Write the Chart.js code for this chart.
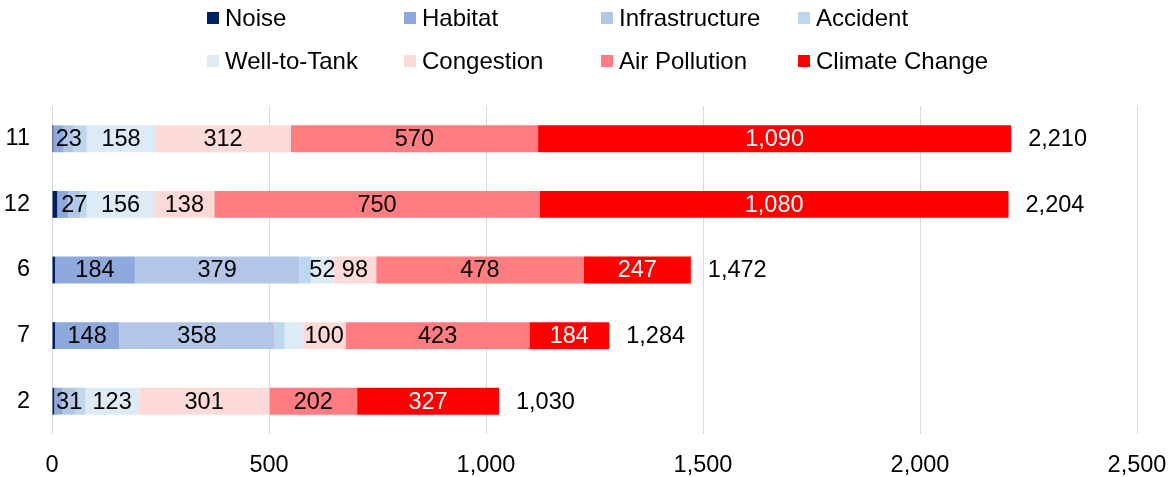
<!DOCTYPE html>
<html>
<head>
<meta charset="utf-8">
<script src="https://cdn.jsdelivr.net/npm/chart.js@4.4.1/dist/chart.umd.min.js"></script>
<style>
    body { margin: 0; background: #fff; }
    #wrap { position: relative; width: 1172px; height: 477px; }
    #grafica { position: absolute; left: 0; top: 0; }
    #leyenda {
        position: absolute;
        left: 207px;
        top: -4px;
        display: grid;
        grid-template-columns: repeat(4, 197px);
        grid-auto-rows: 43px;
        font-family: "Liberation Sans", Arial, sans-serif;
        font-size: 24px;
        color: #000;
    }
    .item { display: flex; align-items: center; white-space: nowrap; }
    .caja { width: 12px; height: 12px; margin-right: 6px; flex: none; }
</style>
</head>
<body>
<div id="wrap">
    <canvas id="grafica" width="1172" height="477"></canvas>
    <div id="leyenda"></div>
</div>
<script>
// 🔹 Datos
const categorias = ['11', '12', '6', '7', '2'];

const noise = [3, 12, 7, 7, 5];
const habitat = [24, 26, 184, 148, 19];
const infrastructure = [23, 27, 379, 358, 31];
const accident = [30, 15, 27, 23, 22];
const wellToTank = [158, 156, 52, 41, 123];
const congestion = [312, 138, 98, 100, 301];
const airPollution = [570, 750, 478, 423, 202];
const climateChange = [1090, 1080, 247, 184, 327];

const ticksX = [0, 500, 1000, 1500, 2000, 2500];

// etiquetas que no se muestran (serie -> categorías)
const sinEtiqueta = {
    'Noise': ['11', '12', '6', '7', '2'],
    'Habitat': ['11', '12', '2'],
    'Accident': ['11', '12', '6', '7', '2'],
    'Well-to-Tank': ['7']
};

const FUENTE = '"Liberation Sans", Arial, sans-serif';
const TAM = 23.5;

const series = [
    { label: 'Noise', data: noise, color: '#002060' },
    { label: 'Habitat', data: habitat, color: '#8EA9DB' },
    { label: 'Infrastructure', data: infrastructure, color: '#B4C6E7' },
    { label: 'Accident', data: accident, color: '#BDD7EE' },
    { label: 'Well-to-Tank', data: wellToTank, color: '#DDEBF7' },
    { label: 'Congestion', data: congestion, color: '#FCDAD8' },
    { label: 'Air Pollution', data: airPollution, color: '#FF7C80' },
    { label: 'Climate Change', data: climateChange, color: '#FF0000' }
];

const fmt = v => v.toLocaleString('en-US');

// 🔹 Etiquetas dentro de cada tramo y total al final de la barra
const etiquetas = {
    id: 'etiquetas',
    afterDatasetsDraw(chart) {
        const ctx = chart.ctx;
        ctx.save();
        ctx.font = TAM + 'px ' + FUENTE;
        ctx.textBaseline = 'middle';
        ctx.textAlign = 'center';

        chart.data.datasets.forEach((ds, i) => {
            const meta = chart.getDatasetMeta(i);
            const ocultas = sinEtiqueta[ds.label] || [];
            meta.data.forEach((bar, j) => {
                if (ocultas.includes(categorias[j])) return;
                ctx.fillStyle = ds.label === 'Climate Change' ? '#fff' : '#000';
                ctx.fillText(fmt(ds.data[j]), (bar.x + bar.base) / 2, bar.y + 1);
            });
        });

        // totales
        const xScale = chart.scales.x;
        const ultima = chart.getDatasetMeta(chart.data.datasets.length - 1);
        ctx.textAlign = 'left';
        ctx.fillStyle = '#000';
        categorias.forEach((c, j) => {
            const total = series.reduce((s, d) => s + d.data[j], 0);
            ctx.fillText(fmt(total), xScale.getPixelForValue(total) + 17, ultima.data[j].y + 1);
        });
        ctx.restore();
    }
};

const ctx = document.getElementById('grafica').getContext('2d');

const grafica = new Chart(ctx, {
    type: 'bar',
    data: {
        labels: categorias,
        datasets: series.map(s => ({
            label: s.label,
            data: s.data,
            backgroundColor: s.color,
            borderWidth: 0,
            barPercentage: 0.41,
            categoryPercentage: 1
        }))
    },
    options: {
        indexAxis: 'y',
        responsive: false,
        animation: false,
        layout: {
            padding: { top: 106, right: 35, bottom: 0, left: 0 }
        },
        plugins: {
            legend: { display: false },
            tooltip: { enabled: false }
        },
        scales: {
            x: {
                stacked: true,
                min: 0,
                max: 2500,
                afterBuildTicks: scale => {
                    scale.ticks = ticksX.map(v => ({ value: v }));
                },
                afterFit: scale => {
                    scale.height = 43;
                    scale.paddingLeft = 0;
                    scale.paddingRight = 0;
                },
                grid: {
                    color: '#d9d9d9',
                    lineWidth: 1,
                    drawTicks: false
                },
                border: { display: false },
                ticks: {
                    color: '#000',
                    padding: 19,
                    maxRotation: 0,
                    font: { family: FUENTE, size: TAM, lineHeight: 1.1 },
                    callback: v => fmt(v)
                }
            },
            y: {
                stacked: true,
                afterFit: scale => {
                    scale.width = 52;
                    scale.paddingTop = 0;
                    scale.paddingBottom = 0;
                },
                grid: { display: false, drawTicks: false },
                border: { display: false },
                ticks: {
                    color: '#000',
                    padding: 22,
                    font: { family: FUENTE, size: TAM }
                }
            }
        }
    },
    plugins: [etiquetas]
});

// 🔹 Leyenda en cuadrícula de 4 columnas
const leyenda = document.getElementById('leyenda');
series.forEach(s => {
    const item = document.createElement('div');
    item.className = 'item';
    const caja = document.createElement('span');
    caja.className = 'caja';
    caja.style.background = s.color;
    const texto = document.createElement('span');
    texto.textContent = s.label;
    item.appendChild(caja);
    item.appendChild(texto);
    leyenda.appendChild(item);
});
</script>
</body>
</html>
